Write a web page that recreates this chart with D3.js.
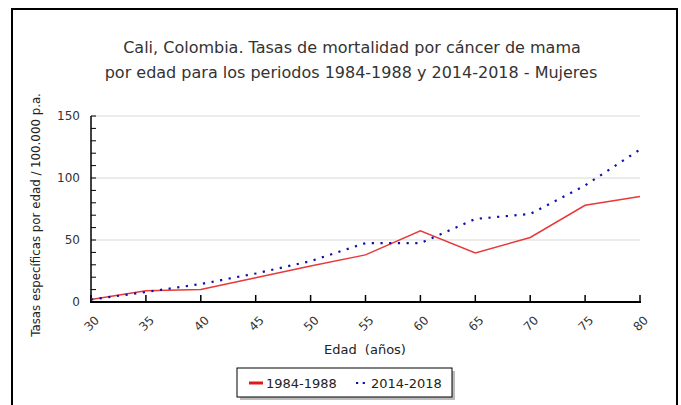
<!DOCTYPE html>
<meta charset="utf-8">
<style>
    body { margin: 0; background: #fff; }
    text { font-family: "DejaVu Sans", Verdana, sans-serif; fill: #222; }
    .grid line { stroke: #d8d8d8; stroke-width: 1; }
    .axis path, .axis line { stroke: #000; }
</style>
<svg width="681" height="405"></svg>
<script src="https://d3js.org/d3.v7.min.js"></script>
<script>

    // data
    var ages = [30, 35, 40, 45, 50, 55, 60, 65, 70, 75, 80];
    var rates1984 = [2, 9, 10, 19.5, 29, 38, 57.5, 39.5, 52, 78, 85];
    var rates2014 = [2, 8, 14.5, 23, 33, 47.5, 47.5, 67, 71, 94, 123];
    var yTicks = [0, 50, 100, 150];
    var seriesNames = ["1984-1988", "2014-2018"];

    var svg = d3.select("svg");

    //frame
    svg.append("path")
        .attr("d", "M12,420V9H677V420")
        .attr("fill", "none")
        .attr("stroke", "#000")
        .attr("stroke-width", 2);

    var x = d3.scaleLinear().domain([30, 80]).range([91, 640]),
        y = d3.scaleLinear().domain([0, 150]).range([302, 116]);

    //title
    var title = svg.append("text")
        .attr("text-anchor", "middle")
        .style("font-size", "16px")
        .style("fill", "#333");
    title.append("tspan").attr("x", 352).attr("y", 53)
        .text("Cali, Colombia. Tasas de mortalidad por cáncer de mama");
    title.append("tspan").attr("x", 351).attr("y", 78)
        .text("por edad para los periodos 1984-1988 y 2014-2018 - Mujeres");

    //grid
    svg.append("g").attr("class", "grid")
        .selectAll("line")
        .data(yTicks.slice(1))
        .join("line")
        .attr("x1", x(30)).attr("x2", x(80))
        .attr("y1", function(d) { return y(d); })
        .attr("y2", function(d) { return y(d); });

    //y axis, ticks pointing into the plot
    var yAxis = svg.append("g").attr("class", "axis")
        .attr("transform", "translate(" + x(30) + ",0)");
    yAxis.append("line")
        .attr("y1", y(0)).attr("y2", y(150))
        .attr("stroke-width", 1.5);
    yAxis.selectAll(".minor")
        .data(d3.range(0, 151, 10))
        .join("line")
        .attr("class", "minor")
        .attr("x1", 0).attr("x2", 5)
        .attr("y1", function(d) { return y(d); })
        .attr("y2", function(d) { return y(d); });
    yAxis.selectAll("text")
        .data(yTicks)
        .join("text")
        .attr("x", -11)
        .attr("y", function(d) { return y(d); })
        .attr("dy", "0.35em")
        .attr("text-anchor", "end")
        .style("font-size", "12px")
        .style("fill", "#333")
        .text(function(d) { return d; });

    //x axis
    var xAxis = svg.append("g").attr("class", "axis")
        .attr("transform", "translate(0," + y(0) + ")");
    xAxis.append("line")
        .attr("x1", x(30) - 1).attr("x2", x(80) + 1)
        .attr("stroke-width", 2);
    xAxis.selectAll(".tick")
        .data(ages)
        .join("line")
        .attr("class", "tick")
        .attr("x1", function(d) { return x(d); })
        .attr("x2", function(d) { return x(d); })
        .attr("y1", 0).attr("y2", -7)
        .attr("stroke-width", 1.5);
    xAxis.selectAll("text")
        .data(ages)
        .join("text")
        .attr("text-anchor", "end")
        .attr("transform", function(d) { return "translate(" + (x(d) + 9) + ",19) rotate(-45)"; })
        .style("font-size", "12px")
        .style("fill", "#333")
        .text(function(d) { return d; });

    //axis titles
    svg.append("text")
        .attr("transform", "translate(40,215) rotate(-90)")
        .attr("text-anchor", "middle")
        .style("font-size", "11.8px")
        .text("Tasas específicas por edad / 100.000 p.a.");
    svg.append("text")
        .attr("x", 365).attr("y", 354)
        .attr("text-anchor", "middle")
        .style("font-size", "13px")
        .style("word-spacing", "4px")
        .text("Edad (años)");

    //lines
    var line = d3.line()
        .x(function(d) { return x(d[0]); })
        .y(function(d) { return y(d[1]); });

    svg.append("path")
        .datum(d3.zip(ages, rates1984))
        .attr("d", line)
        .attr("fill", "none")
        .attr("stroke", "#e8393a")
        .attr("stroke-width", 1.5);

    svg.append("path")
        .datum(d3.zip(ages, rates2014))
        .attr("d", line)
        .attr("fill", "none")
        .attr("stroke", "#1010a8")
        .attr("stroke-width", 2.2)
        .attr("stroke-dasharray", "2.2,6.5");

    //legend
    var legend = svg.append("g").attr("transform", "translate(237,368)");
    legend.append("rect")
        .attr("x", 3).attr("y", 3).attr("width", 215).attr("height", 29)
        .attr("fill", "#bbb");
    legend.append("rect")
        .attr("width", 215).attr("height", 29)
        .attr("fill", "#fff").attr("stroke", "#000").attr("stroke-width", 1);
    legend.append("line")
        .attr("x1", 12).attr("x2", 26).attr("y1", 15).attr("y2", 15)
        .attr("stroke", "#e01818").attr("stroke-width", 3);
    legend.append("line")
        .attr("x1", 119).attr("x2", 129).attr("y1", 15).attr("y2", 15)
        .attr("stroke", "#1010a8").attr("stroke-width", 2.2)
        .attr("stroke-dasharray", "2.2,4.5");
    legend.selectAll("text")
        .data(seriesNames)
        .join("text")
        .attr("x", function(d, i) { return i ? 134 : 29; })
        .attr("y", 15)
        .attr("dy", "0.35em")
        .style("font-size", "13px")
        .text(function(d) { return d; });

</script>
